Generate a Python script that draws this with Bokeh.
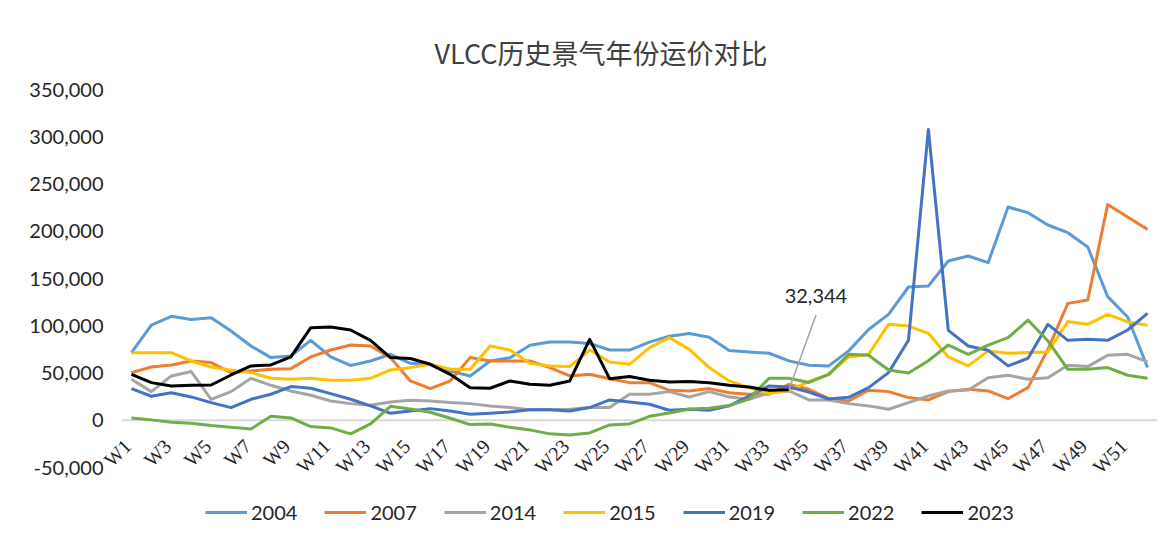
import math
from bokeh.plotting import figure
from bokeh.models import (FixedTicker, NumeralTickFormatter, Span, Legend, LegendItem,
                          Label, Range1d, ColumnDataSource, HTMLLabelSet)
from bokeh.embed import file_html
from bokeh.resources import INLINE

weeks = ["W1", "W2", "W3", "W4", "W5", "W6", "W7", "W8", "W9", "W10", "W11", "W12", "W13",
         "W14", "W15", "W16", "W17", "W18", "W19", "W20", "W21", "W22", "W23", "W24", "W25",
         "W26", "W27", "W28", "W29", "W30", "W31", "W32", "W33", "W34", "W35", "W36", "W37",
         "W38", "W39", "W40", "W41", "W42", "W43", "W44", "W45", "W46", "W47", "W48", "W49",
         "W50", "W51", "W52"]

years = ["2004", "2007", "2014", "2015", "2019", "2022", "2023"]

s2004 = [71500, 100700, 110000, 106700, 108500, 94400, 78600, 66300, 68000, 84600, 67000, 58000,
         62700, 69800, 60200, 59000, 52000, 46900, 62700, 66200, 79300, 82700, 82700, 81300,
         74300, 74300, 82700, 89000, 91800, 87900, 73900, 72300, 70900, 62800, 58200, 57500,
         73400, 96000, 112100, 141000, 142100, 168500, 173800, 166800, 225600, 219600, 206600,
         198500, 183400, 130800, 109300, 55800]
s2007 = [50400, 56400, 58500, 62700, 61000, 50400, 52200, 53900, 54600, 67000, 74300, 79600,
         78600, 66300, 41600, 33500, 41600, 66300, 62700, 62700, 62700, 55700, 46900, 48600,
         44000, 39800, 39800, 31700, 31000, 33500, 29200, 27500, 27500, 38000, 32800, 22900,
         20500, 31700, 30300, 24000, 21500, 30300, 32800, 31000, 22900, 34500, 75000, 123700,
         127200, 228400, 215000, 202000]
s2014 = [43300, 30300, 46900, 51500, 22200, 30300, 44400, 37000, 31000, 26400, 20400, 17600,
         15900, 19400, 21100, 20400, 18700, 17600, 15200, 13400, 11000, 11000, 11600, 13400,
         13400, 27500, 27500, 30300, 24600, 30300, 24600, 22200, 29200, 31000, 21500, 21500,
         17600, 15200, 11600, 18700, 25700, 31000, 32000, 45000, 47600, 43300, 45000, 58200,
         56800, 68800, 69800, 61800]
s2015 = [71500, 71500, 71500, 62700, 56400, 52900, 50400, 44400, 43300, 44400, 42300, 42300,
         44400, 53200, 55700, 59200, 53900, 53900, 78600, 74300, 60200, 57500, 56800, 74300,
         61600, 59200, 76800, 87400, 75000, 55700, 41600, 34500, 28200, 31700, 41000, 48600,
         67000, 69800, 101500, 99700, 92000, 67000, 57500, 73400, 71000, 71600, 72300, 104400,
         101500, 112100, 104000, 100600]
s2019 = [33500, 25400, 29200, 24700, 18700, 13400, 22200, 27500, 35600, 33900, 28200, 22200,
         15200, 7400, 9900, 12300, 9900, 6300, 7400, 8800, 11000, 11000, 9900, 13400,
         21500, 19400, 17000, 10600, 11600, 10600, 15200, 25700, 36300, 35200, 29900, 22500,
         24300, 34500, 50400, 84600, 307700, 95100, 78600, 74000, 57500, 65600, 101500, 84600,
         85600, 84600, 95500, 113100]
s2022 = [2500, 400, -2100, -3200, -5600, -7400, -9200, 4200, 2500, -6700, -8100, -14400,
         -3900, 14800, 12000, 8500, 2100, -4600, -3900, -7400, -10200, -14400, -15500, -13400,
         -4900, -3900, 4200, 7700, 12000, 12700, 15500, 22500, 44400, 44400, 40000, 48600,
         69800, 68800, 53200, 50000, 63000, 79600, 69800, 79600, 87400, 106000, 83900, 53900,
         53900, 55700, 47600, 44400]
s2023 = [48600, 39800, 36300, 37000, 37300, 47900, 57500, 58500, 67000, 98000, 98700, 95500,
         84600, 66300, 65300, 59200, 48600, 34500, 33900, 41600, 38000, 37000, 41600, 85600,
         44000, 46200, 42300, 40500, 40900, 39800, 37000, 35200, 31700, 32344]

y_ticks = [-50000, 0, 50000, 100000, 150000, 200000, 250000, 300000, 350000]

series = [s2004, s2007, s2014, s2015, s2019, s2022, s2023]
colors = ["#5B9BD5", "#ED7D31", "#A5A5A5", "#FFC000", "#4472C4", "#70AD47", "#000000"]

LATIN = "Lato"
CJK = "Noto Sans CJK SC"
TXT = "#262626"

xpos = list(range(1, len(weeks) + 1))

# the frame reaches down to the bottom of the chart so that the slanted week
# labels and the legend live inside it (only -50,000 .. 350,000 is ticked)
p = figure(width=1175, height=536, output_backend="svg", toolbar_location=None,
           x_range=Range1d(0.5, len(weeks) + 0.5), y_range=Range1d(-115600, y_ticks[-1]),
           min_border_left=121, min_border_right=18, min_border_top=89, min_border_bottom=7)
p.outline_line_color = None
p.grid.visible = False
p.background_fill_color = "white"
p.border_fill_color = "white"

p.title.text = "VLCC历史景气年份运价对比"
p.title.align = "left"
p.title.offset = 313
p.title.text_font = CJK
p.title.text_font_size = "27px"
p.title.text_font_style = "normal"
p.title.text_color = "#404040"
p.title.standoff = 35

zero = Span(location=0, dimension="width", line_color="#D9D9D9", line_width=2, level="underlay")
p.add_layout(zero)

ya = p.yaxis[0]
ya.ticker = FixedTicker(ticks=y_ticks)
ya.formatter = NumeralTickFormatter(format="0,0")
ya.axis_line_color = None
ya.major_tick_line_color = None
ya.minor_tick_line_color = None
ya.major_tick_out = 0
ya.major_label_standoff = 18
ya.major_label_text_font = LATIN
ya.major_label_text_font_size = "20px"
ya.major_label_text_color = TXT

p.xaxis.visible = False

# week labels (every other week), slanted 45 degrees, hanging below the zero line
lab_src = ColumnDataSource(dict(x=xpos[::2], y=[0] * len(xpos[::2]), t=weeks[::2]))
week_labels = HTMLLabelSet(x="x", y="y", text="t", source=lab_src, angle=45, angle_units="deg",
                           text_align="right", text_baseline="middle",
                           x_offset=-3, y_offset=-23,
                           text_font=LATIN, text_font_size="20px", text_color=TXT)
p.add_layout(week_labels)

items = []
for name, vals, col in zip(years, series, colors):
    r = p.line(xpos[:len(vals)], vals, line_color=col, line_width=3, line_join="round")
    items.append(LegendItem(label=name, renderers=[r]))

legend = Legend(items=items, orientation="horizontal", location=(84, 5),
                glyph_width=42, glyph_height=20, label_standoff=4, spacing=27,
                padding=0, margin=0, border_line_color=None, background_fill_alpha=0,
                label_text_font=LATIN, label_text_font_size="20px", label_text_color=TXT)
p.add_layout(legend)

# callout for latest 2023 value
last_x = len(s2023)
last_y = s2023[-1]
p.segment(x0=[last_x], y0=[last_y], x1=[last_x + 1.36], y1=[last_y + 79000],
          line_color="#A5A5A5", line_width=1.5)
p.add_layout(Label(x=last_x, y=last_y, text=f"{last_y:,}", x_offset=27, y_offset=94,
                   text_align="center", text_baseline="middle", text_font=LATIN,
                   text_font_size="20px", text_color=TXT))

open("out.html", "w").write(file_html(p, INLINE))
